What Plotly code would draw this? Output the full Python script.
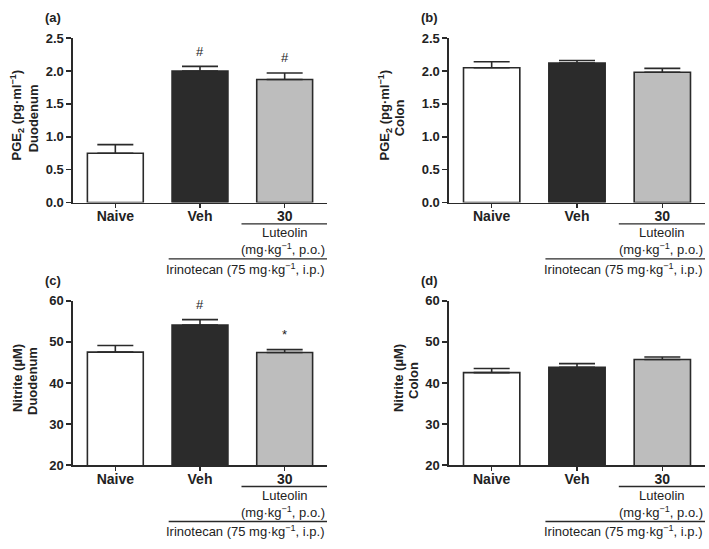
import plotly.graph_objects as go

# ---------------- data ----------------
groups = ["Naive", "Veh", "30"]
bar_colors = ["#ffffff", "#2b2b2b", "#bdbdbd"]

pge2_duodenum = [0.75, 2.00, 1.87]
pge2_duodenum_sem = [0.13, 0.07, 0.10]

pge2_colon = [2.05, 2.12, 1.98]
pge2_colon_sem = [0.09, 0.04, 0.06]

nitrite_duodenum = [47.5, 54.1, 47.4]
nitrite_duodenum_sem = [1.6, 1.3, 0.7]

nitrite_colon = [42.5, 43.8, 45.7]
nitrite_colon_sem = [1.0, 0.9, 0.6]

# significance markers: (panel, group index, symbol)
sig_marks = [("a", 1, "#"), ("a", 2, "#"), ("c", 1, "#"), ("c", 2, "*")]

panel_letters = ["(a)", "(b)", "(c)", "(d)"]
ytitle_line1 = ["PGE<sub>2</sub> (pg·ml<sup>−1</sup>)", "PGE<sub>2</sub> (pg·ml<sup>−1</sup>)",
                "Nitrite (µM)", "Nitrite (µM)"]
ytitle_line2 = ["Duodenum", "Colon", "Duodenum", "Colon"]

# ---------------- layout helpers ----------------
W, H = 709, 549
FONT = "Liberation Sans, Arial, Helvetica, sans-serif"
INK = "#2a2a2a"

# panel boxes in screen pixels: (x0, x1, ytop, ybottom)
boxes = {
    "a": (73, 327, 32, 201),
    "b": (449, 705, 32, 201),
    "c": (73, 327, 302, 471),
    "d": (449, 705, 302, 471),
}
panels = [
    ("a", pge2_duodenum, pge2_duodenum_sem, [0, 2.5], 0.5, ".1f"),
    ("b", pge2_colon, pge2_colon_sem, [0, 2.5], 0.5, ".1f"),
    ("c", nitrite_duodenum, nitrite_duodenum_sem, [20, 60], 10, "d"),
    ("d", nitrite_colon, nitrite_colon_sem, [20, 60], 10, "d"),
]

def px(x):
    return x / W

def py(y):
    return 1 - y / H

fig = go.Figure()
annotations = []
shapes = []

for i, (key, vals, sems, yr, dt, fmt) in enumerate(panels):
    n = i + 1
    xa = "x" if n == 1 else f"x{n}"
    ya = "y" if n == 1 else f"y{n}"
    x0, x1, yt, yb = boxes[key]

    fig.add_trace(go.Bar(
        x=[0, 1, 2], y=vals,
        width=0.66,
        marker=dict(color=bar_colors, line=dict(color=INK, width=1.6)),
        error_y=dict(type="data", symmetric=False, array=sems,
                     arrayminus=[0, 0, 0], color=INK, thickness=1.6, width=18),
        xaxis=xa, yaxis=ya, showlegend=False, hoverinfo="skip",
    ))

    xkey = "xaxis" if n == 1 else f"xaxis{n}"
    ykey = "yaxis" if n == 1 else f"yaxis{n}"
    xdict = dict(domain=[px(x0), px(x1)], range=[-0.5, 2.5], anchor=ya,
                 tickvals=[0, 1, 2], ticktext=[f"<b>{g}</b>" for g in groups],
                 ticks="outside", ticklen=4, tickwidth=1.6, tickcolor=INK,
                 showline=True, linecolor=INK, linewidth=1.6,
                 showgrid=False, zeroline=False, fixedrange=True,
                 tickfont=dict(family=FONT, size=14, color="#222"))
    ydict = dict(domain=[py(yb), py(yt)], range=yr, anchor=xa, dtick=dt,
                 tickformat=fmt,
                 ticks="outside", ticklen=5, tickwidth=1.6, tickcolor=INK,
                 showline=True, linecolor=INK, linewidth=1.6,
                 showgrid=False, zeroline=False, fixedrange=True,
                 tickfont=dict(family=FONT, size=13, color="#222", weight="bold"))
    fig.update_layout(**{xkey: xdict, ykey: ydict})
    try:
        fig.update_layout(**{xkey: dict(ticklabelstandoff=-4)})
    except Exception:
        pass

    # brackets beneath "30" and the treated groups
    ylev1 = py(yb + 22)
    ylev2 = py(yb + 58)
    shapes.append(dict(type="line", xref=xa, yref="paper", x0=1.49, x1=2.5,
                       y0=ylev1, y1=ylev1, line=dict(color=INK, width=1.4)))
    shapes.append(dict(type="line", xref=xa, yref="paper", x0=0.63, x1=2.5,
                       y0=ylev2, y1=ylev2, line=dict(color=INK, width=1.4)))
    annotations.append(dict(text="Luteolin", xref=xa, yref="paper", x=2, y=py(yb + 31),
                            showarrow=False, xanchor="center", yanchor="middle",
                            font=dict(family=FONT, size=13, color="#222")))
    annotations.append(dict(text="(mg·kg<sup>−1</sup>, p.o.)", xref=xa, yref="paper",
                            x=2.5, y=py(yb + 48), showarrow=False,
                            xanchor="right", yanchor="middle",
                            font=dict(family=FONT, size=13, color="#222")))
    annotations.append(dict(text="Irinotecan (75 mg·kg<sup>−1</sup>, i.p.)", xref=xa,
                            yref="paper", x=2.5, y=py(yb + 68), showarrow=False,
                            xanchor="right", yanchor="middle",
                            font=dict(family=FONT, size=13, color="#222")))

    # panel letter
    annotations.append(dict(text=f"<b>{panel_letters[i]}</b>", xref="paper", yref="paper",
                            x=px(x0 - 30), y=py(yt - 21), showarrow=False,
                            xanchor="left", yanchor="middle",
                            font=dict(family=FONT, size=13, color="#222")))

    # y titles (two lines)
    if key in ("a", "c"):
        l1x, l2x = x0 - 56, x0 - 40
    elif key == "b":
        l1x, l2x = x0 - 64, x0 - 50
    else:
        l1x, l2x = x0 - 51, x0 - 35
    ymid = (yt + yb) / 2 - 5
    annotations.append(dict(text=f"<b>{ytitle_line1[i]}</b>", xref="paper", yref="paper",
                            x=px(l1x), y=py(ymid), textangle=-90, showarrow=False,
                            xanchor="center", yanchor="middle",
                            font=dict(family=FONT, size=13, color="#222")))
    annotations.append(dict(text=f"<b>{ytitle_line2[i]}</b>", xref="paper", yref="paper",
                            x=px(l2x), y=py(ymid + 3), textangle=-90, showarrow=False,
                            xanchor="center", yanchor="middle",
                            font=dict(family=FONT, size=13, color="#222")))

# significance markers
panel_data = {p[0]: (p[1], p[2], i + 1) for i, p in enumerate(panels)}
for key, gi, sym in sig_marks:
    vals, sems, n = panel_data[key]
    xa = "x" if n == 1 else f"x{n}"
    ya = "y" if n == 1 else f"y{n}"
    annotations.append(dict(text=sym, xref=xa, yref=ya, x=gi, y=vals[gi] + sems[gi],
                            yshift=15, showarrow=False, xanchor="center", yanchor="middle",
                            font=dict(family=FONT, size=13, color="#222")))

fig.update_layout(
    width=W, height=H,
    margin=dict(l=0, r=0, t=0, b=0),
    paper_bgcolor="white", plot_bgcolor="white",
    annotations=annotations, shapes=shapes,
    font=dict(family=FONT, color="#222"),
    hovermode=False,
)

fig.write_html(
    "out.html",
    config={"displayModeBar": False, "staticPlot": True},
    post_script="document.body.style.margin='0';document.body.style.overflow='hidden';",
)
